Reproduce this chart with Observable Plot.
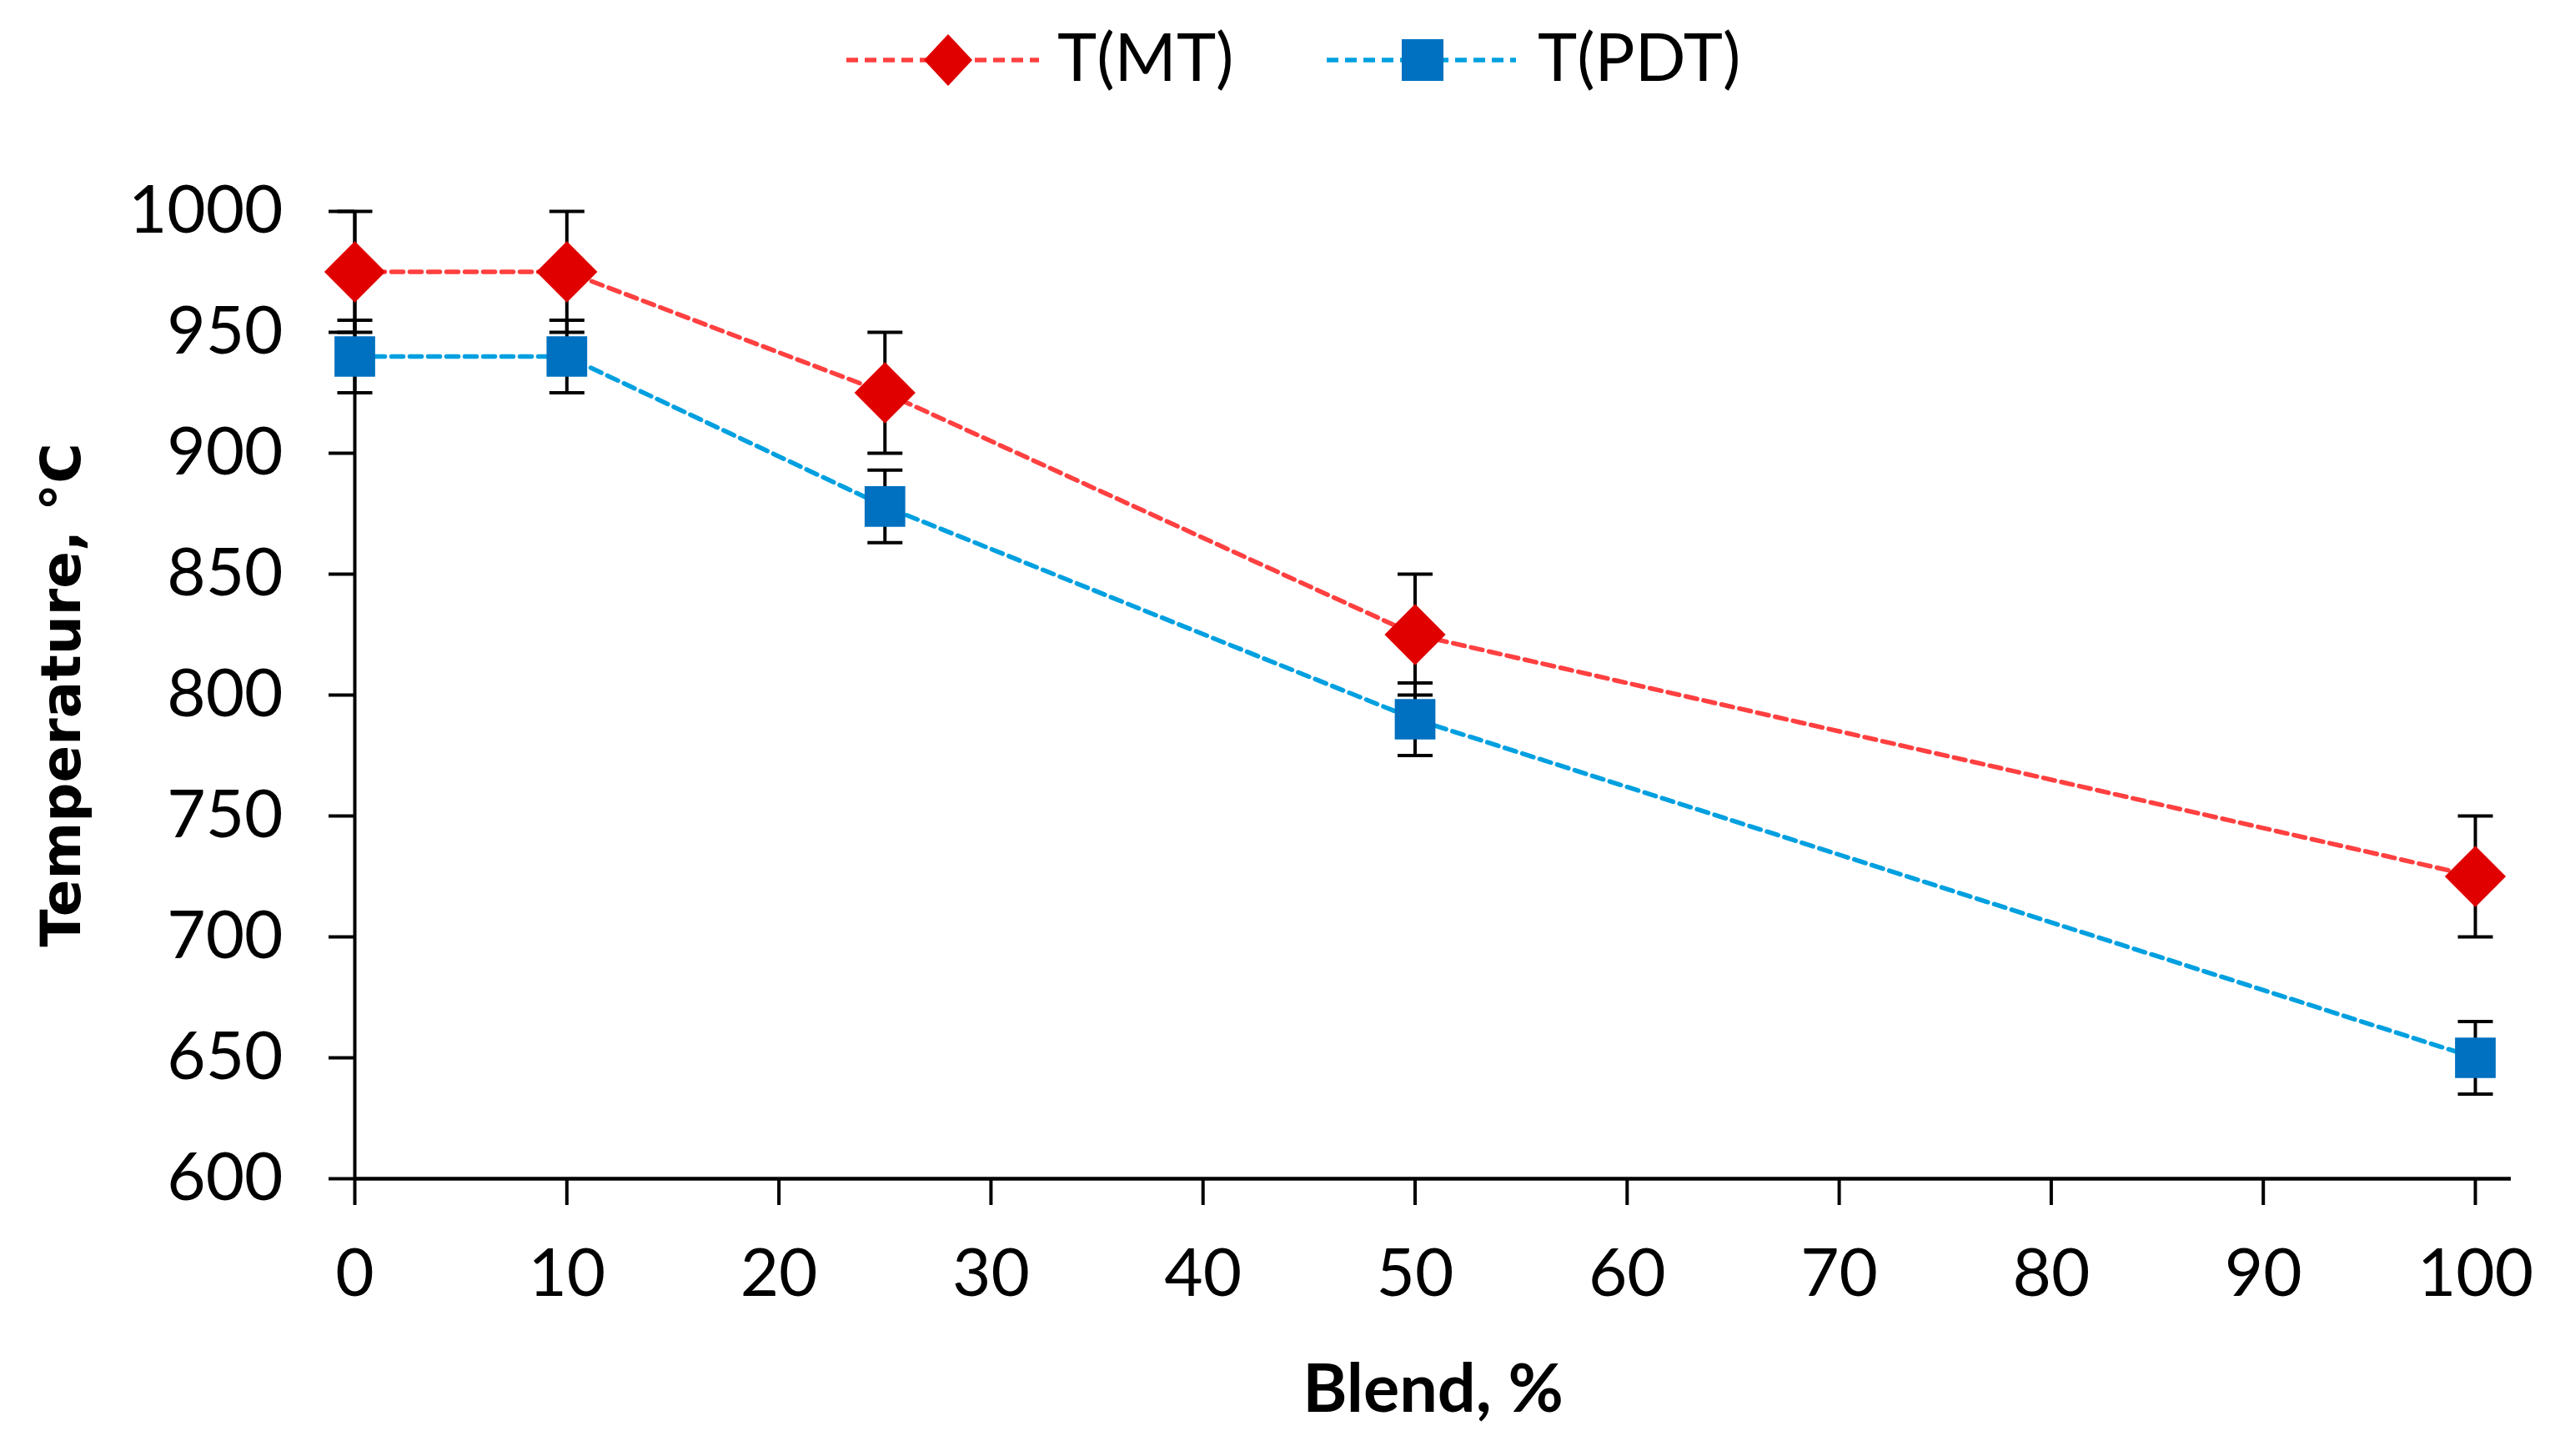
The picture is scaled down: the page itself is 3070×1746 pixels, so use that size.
<!DOCTYPE html>
<html>
<head>
<meta charset="utf-8">
<script src="https://cdn.jsdelivr.net/npm/d3@7"></script>
<script src="https://cdn.jsdelivr.net/npm/@observablehq/plot@0.6"></script>
<style>
  body { margin: 0; background: white; overflow: hidden; }
  #chart svg { display: block; }
</style>
</head>
<body>
<div id="legend"></div>
<div id="chart"></div>
<script>
// values
const blend = [0, 10, 25, 50, 100];
const tMT = [975, 975, 925, 825, 725];
const tPDT = [940, 940, 878, 790, 650];
const errMT = [25, 25, 25, 25, 25];
const errPDT = [15, 15, 15, 15, 15];
const seriesNames = ["T(MT)", "T(PDT)"];
const xTicks = [0, 10, 20, 30, 40, 50, 60, 70, 80, 90, 100];
const yTicks = [600, 650, 700, 750, 800, 850, 900, 950, 1000];

const rows = [
  ...blend.map((b, i) => ({series: seriesNames[0], blend: b, t: tMT[i], err: errMT[i]})),
  ...blend.map((b, i) => ({series: seriesNames[1], blend: b, t: tPDT[i], err: errPDT[i]}))
];
const mt = rows.filter(d => d.series === "T(MT)");
const pdt = rows.filter(d => d.series === "T(PDT)");

const lineRed = "#ff4040", markRed = "#e00000";
const lineBlue = "#00a0e0", markBlue = "#0070c0";

// horizontal cap for error bars
const capSymbol = {
  draw(context, size) {
    const w = Math.sqrt(size / Math.PI);
    context.moveTo(-w, 0);
    context.lineTo(w, 0);
  }
};

const errorBars = (data) => [
  Plot.ruleX(data, {x: "blend", y1: d => d.t - d.err, y2: d => d.t + d.err, stroke: "black", strokeWidth: 4}),
  Plot.dot(data, {x: "blend", y: d => d.t + d.err, symbol: capSymbol, r: 21, stroke: "black", strokeWidth: 4, fill: "none"}),
  Plot.dot(data, {x: "blend", y: d => d.t - d.err, symbol: capSymbol, r: 21, stroke: "black", strokeWidth: 4, fill: "none"})
];

const chart = Plot.plot({
  width: 3070,
  height: 1596,
  marginLeft: 425,
  marginRight: 59,
  insetRight: 43,
  marginTop: 103,
  marginBottom: 333,
  style: {fontFamily: "Lato, sans-serif", fontSize: "78px", color: "black", background: "white"},
  x: {domain: [0, 100]},
  y: {domain: [600, 1000]},
  marks: [
    Plot.axisY({ticks: yTicks, tickFormat: "d", tickSize: 31, tickPadding: 55, strokeWidth: 4, fontSize: 80, label: null}),
    Plot.axisY({ticks: [], tickSize: 0, label: "Temperature, °C", labelAnchor: "center", labelArrow: "none",
      labelOffset: 376, fontFamily: "DejaVu Sans", fontWeight: "bold", fontSize: 66}),
    Plot.axisX({ticks: xTicks, tickFormat: "d", tickSize: 32, tickPadding: 52, strokeWidth: 4, fontSize: 80, label: null}),
    Plot.axisX({ticks: [], tickSize: 0, label: "Blend, %", labelAnchor: "center", labelArrow: "none",
      labelOffset: 279, dx: -14, fontFamily: "Lato", fontWeight: "bold", fontSize: 81}),
    Plot.ruleX([0], {stroke: "black", strokeWidth: 4}),
    Plot.ruleY([600], {stroke: "black", strokeWidth: 4.5}),
    Plot.line(mt, {x: "blend", y: "t", stroke: lineRed, strokeWidth: 5.5, strokeDasharray: "14,8"}),
    Plot.line(pdt, {x: "blend", y: "t", stroke: lineBlue, strokeWidth: 5.5, strokeDasharray: "14,8"}),
    ...errorBars(mt),
    ...errorBars(pdt),
    Plot.dot(mt, {x: "blend", y: "t", symbol: "diamond2", r: 33, fill: markRed, stroke: "none"}),
    Plot.dot(pdt, {x: "blend", y: "t", symbol: "square", r: 27.5, fill: markBlue, stroke: "none"})
  ]
});

d3.select("#chart").append(() => chart);

// legend above the chart
const leg = d3.select("#legend").append("svg")
  .attr("width", 3070).attr("height", 150)
  .style("display", "block");

const items = [
  {name: seriesNames[0], x0: 1015, x1: 1246, cx: 1137, tx: 1268, line: lineRed, fill: markRed, shape: "diamond"},
  {name: seriesNames[1], x0: 1591, x1: 1818, cx: 1706, tx: 1844, line: lineBlue, fill: markBlue, shape: "square"}
];
items.forEach(it => {
  leg.append("line")
    .attr("x1", it.x0).attr("x2", it.x1).attr("y1", 72).attr("y2", 72)
    .attr("stroke", it.line).attr("stroke-width", 5.5).attr("stroke-dasharray", "14,8");
  if (it.shape === "diamond") {
    leg.append("path")
      .attr("d", `M${it.cx},${72 - 31}L${it.cx + 29},72L${it.cx},${72 + 31}L${it.cx - 29},72Z`)
      .attr("fill", it.fill);
  } else {
    leg.append("rect")
      .attr("x", it.cx - 25).attr("y", 72 - 25).attr("width", 50).attr("height", 50)
      .attr("fill", it.fill);
  }
  leg.append("text")
    .attr("x", it.tx).attr("y", 97)
    .attr("font-family", "Lato, sans-serif").attr("font-size", 80)
    .attr("fill", "black")
    .text(it.name);
});
</script>
</body>
</html>
